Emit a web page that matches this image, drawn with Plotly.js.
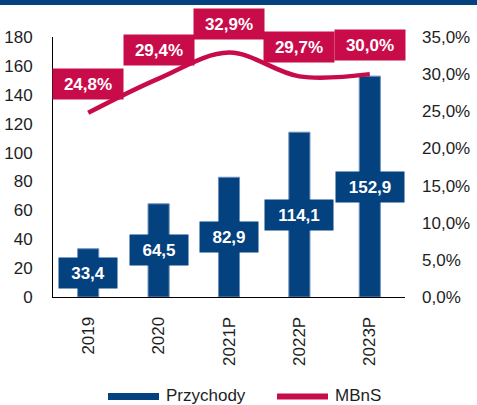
<!DOCTYPE html>
<html>
<head>
<meta charset="utf-8">
<script src="https://cdn.plot.ly/plotly-3.0.1.min.js"></script>
<style>html,body{margin:0;padding:0;background:#fff;}#chart{width:477px;height:405px;}</style>
</head>
<body>
<div id="chart"></div>
<script>
var categories = ["2019", "2020", "2021P", "2022P", "2023P"];
var revenue = [33.4, 64.5, 82.9, 114.1, 152.9];
var margin = [24.8, 29.4, 32.9, 29.7, 30.0];
var seriesNames = ["Przychody", "MBnS"];

var BLUE = "#03417F";
var RED = "#C80C4A";
var TXT = "#1e1e1e";
var FONT = "Liberation Sans, Arial, sans-serif";

var W = 477, H = 405, L = 53, R = 72, T = 37, B = 108;
var PW = W - L - R, PH = H - T - B;
function px(x) { return (x - L) / PW; }
function py(y) { return (T + PH - y) / PH; }
function fmt(v) { return v.toFixed(1).replace(".", ","); }

var traces = [
  {
    type: "bar", name: seriesNames[0], x: categories, y: revenue,
    marker: { color: BLUE, line: { color: "#6f8fb8", width: 1 } },
    width: 0.3, showlegend: false, hoverinfo: "none"
  },
  {
    type: "scatter", mode: "lines", name: seriesNames[1], x: categories, y: margin,
    yaxis: "y2", line: { color: RED, width: 4.5, shape: "spline", smoothing: 1 },
    showlegend: false, hoverinfo: "none"
  }
];

var annotations = [];
categories.forEach(function (c, i) {
  var t = fmt(revenue[i]);
  annotations.push({
    x: i, y: revenue[i] / 2, xref: "x", yref: "y", text: "<b>" + t + "</b>",
    showarrow: false, bgcolor: BLUE, borderpad: 4, width: t.length * 10 + 10, height: 22,
    font: { family: FONT, size: 17, color: "#fff" }
  });
  annotations.push({
    x: i, y: margin[i], xref: "x", yref: "y2", yshift: 29, text: "<b>" + fmt(margin[i]) + "%</b>",
    showarrow: false, bgcolor: RED, borderpad: 4, width: 62, height: 22,
    font: { family: FONT, size: 17, color: "#fff" }
  });
});
// legend texts
annotations.push({ x: px(164), y: py(395), xref: "paper", yref: "paper", xanchor: "left", yanchor: "middle",
  text: seriesNames[0], showarrow: false, font: { family: FONT, size: 17, color: TXT } });
annotations.push({ x: px(333), y: py(395), xref: "paper", yref: "paper", xanchor: "left", yanchor: "middle",
  text: seriesNames[1], showarrow: false, font: { family: FONT, size: 17, color: TXT } });

var shapes = [
  { type: "rect", xref: "paper", yref: "paper", x0: px(0), x1: px(W), y0: py(5), y1: py(0),
    fillcolor: BLUE, line: { width: 0 }, layer: "below" },
  { type: "rect", xref: "paper", yref: "paper", x0: px(108), x1: px(159), y0: py(400), y1: py(393),
    fillcolor: BLUE, line: { width: 0 } },
  { type: "line", xref: "paper", yref: "paper", x0: px(277), x1: px(328), y0: py(396.5), y1: py(396.5),
    line: { color: RED, width: 6 } }
];

var layout = {
  width: W, height: H,
  margin: { l: L, r: R, t: T, b: B, pad: 0 },
  paper_bgcolor: "#fff", plot_bgcolor: "#fff",
  separators: ",.",
  showlegend: false,
  font: { family: FONT, size: 17, color: TXT },
  bargap: 0.7,
  xaxis: {
    type: "category", range: [-0.5, 4.5], showline: true, linecolor: "#000", linewidth: 1, showgrid: false,
    ticks: "", tickangle: -90, ticklabelstandoff: 12,
    tickfont: { family: FONT, size: 17, color: TXT }, fixedrange: true
  },
  yaxis: {
    range: [0, 180], dtick: 20, showline: true, linecolor: "#000", linewidth: 1,
    showgrid: false, zeroline: false, ticks: "", ticklabelstandoff: 16,
    tickfont: { family: FONT, size: 17, color: TXT }
  },
  yaxis2: {
    overlaying: "y", side: "right", range: [0, 35], dtick: 5, tickformat: ".1f", ticksuffix: "%",
    showline: false, showgrid: false, zeroline: false, ticks: "", ticklabelstandoff: 16,
    tickfont: { family: FONT, size: 17, color: TXT }
  },
  annotations: annotations,
  shapes: shapes
};

Plotly.newPlot("chart", traces, layout, { staticPlot: true, displayModeBar: false });
</script>
</body>
</html>
